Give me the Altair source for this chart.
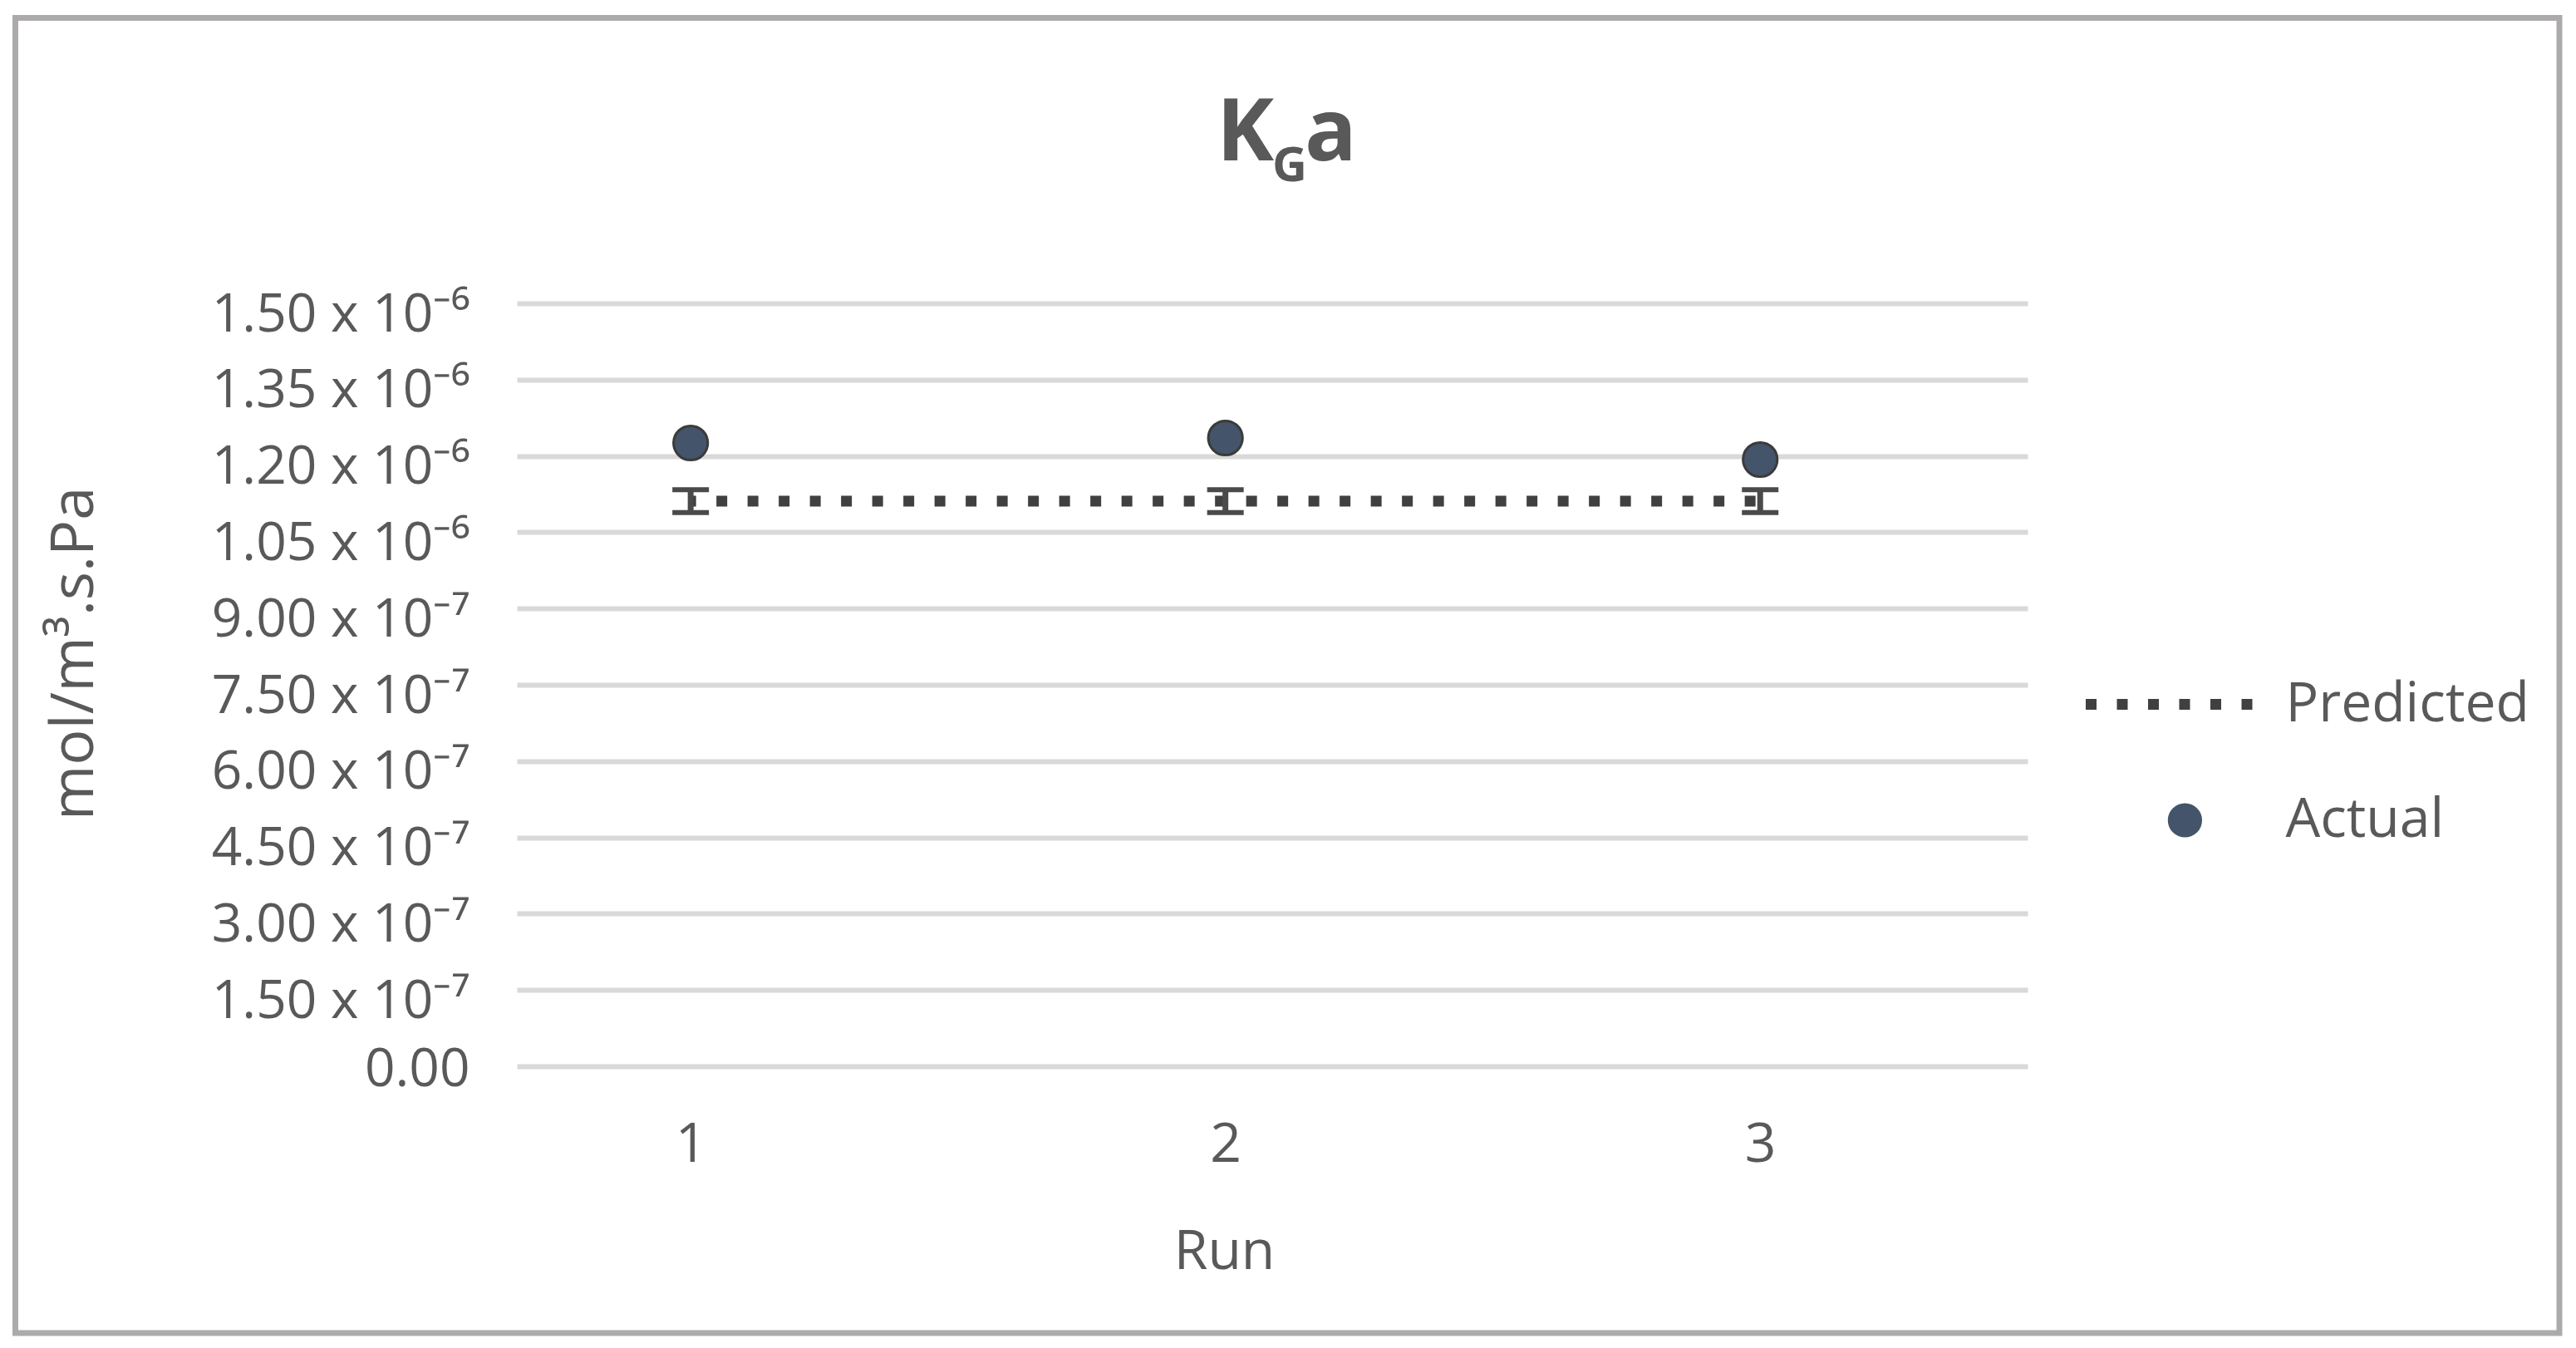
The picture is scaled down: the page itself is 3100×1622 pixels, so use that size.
import json
import altair as alt
import pandas as pd

# ---------------- data ----------------
runs = [1, 2, 3]
actual = [1.2255e-6, 1.2353e-6, 1.1928e-6]
predicted = [1.111e-6, 1.111e-6, 1.111e-6]
predicted_err = [0.0225e-6, 0.0225e-6, 0.0225e-6]

y_tick_values = [0, 1.5e-7, 3.0e-7, 4.5e-7, 6.0e-7, 7.5e-7, 9.0e-7,
                 1.05e-6, 1.2e-6, 1.35e-6, 1.5e-6]
y_tick_labels = ["0.00", "1.50 x 10\u207b\u2077", "3.00 x 10\u207b\u2077",
                 "4.50 x 10\u207b\u2077", "6.00 x 10\u207b\u2077",
                 "7.50 x 10\u207b\u2077", "9.00 x 10\u207b\u2077",
                 "1.05 x 10\u207b\u2076", "1.20 x 10\u207b\u2076",
                 "1.35 x 10\u207b\u2076", "1.50 x 10\u207b\u2076"]
x_tick_values = [1, 2, 3]
title_parts = ["K", "G", "a"]
y_title = "mol/m\u00b3.s.Pa"
x_title = "Run"
series_names = ["Predicted", "Actual"]

# ---------------- tables ----------------
df_act = pd.DataFrame({"run": runs, "value": actual, "series": series_names[1]})
df_pred = pd.DataFrame({"run": runs, "value": predicted, "err": predicted_err,
                        "series": series_names[0]})
df_pred["lo"] = df_pred["value"] - df_pred["err"]
df_pred["hi"] = df_pred["value"] + df_pred["err"]

FONT = "Open Sans"
GREY = "#595959"
W, H = 1818, 918
PAD_L, PAD_T = 614, 357

x_scale = alt.Scale(domain=[0.675, 3.5], nice=False, zero=False)
y_scale = alt.Scale(domain=[0, 1.5e-6], nice=False)

label_expr = json.dumps(y_tick_labels) + "[round(datum.value / 1.5e-7)]"

x_enc = alt.X("run:Q", scale=x_scale,
              axis=alt.Axis(values=x_tick_values, format="d", grid=False,
                            domain=False, ticks=False, labelPadding=62,
                            labelFontSize=66, labelColor=GREY, labelFont=FONT,
                            labelLimit=0,
                            title=x_title, titleFontSize=66, titleColor=GREY,
                            titleFont=FONT, titleFontWeight="normal",
                            titleX=851, titleY=223, titleBaseline="middle",
                            titleAlign="center"))
y_enc = alt.Y("value:Q", scale=y_scale,
              axis=alt.Axis(values=y_tick_values, labelExpr=label_expr,
                            grid=True, gridColor="#D9D9D9", gridWidth=6,
                            domain=False, ticks=False, labelPadding=57,
                            labelFontSize=64, labelColor=GREY, labelFont=FONT,
                            labelOffset={"condition": {"test": "datum.value === 0",
                                                       "value": 4},
                                         "value": 14},
                            labelLimit=0,
                            title=y_title, titleFontSize=72, titleColor=GREY,
                            titleFont=FONT, titleFontWeight="normal",
                            titleAngle=270, titleX=-533, titleY=421,
                            titleBaseline="middle", titleAlign="center"))

# border around whole chart
border = alt.Chart(pd.DataFrame({"b": [0]})).mark_rect(
    fill=None, stroke="#ADAAAA", strokeWidth=7
).encode(
    x=alt.value(18.5 - 622), x2=alt.value(3080 - 622),
    y=alt.value(21.5 - 365), y2=alt.value(1604 - 365)
)

line = alt.Chart(df_pred).mark_line(
    color="#404040", strokeWidth=13, strokeCap="butt", strokeDashOffset=6.5
).encode(
    x=x_enc, y=y_enc,
    strokeDash=alt.StrokeDash(
        "series:N",
        scale=alt.Scale(domain=[series_names[0]], range=[[13, 24.5]]),
        legend=alt.Legend(orient="none", legendX=1881.5, legendY=375.5,
                          title=None, padding=0, symbolType="stroke",
                          symbolSize=40401, symbolStrokeWidth=13,
                          symbolStrokeColor="#404040", labelFontSize=66,
                          labelColor=GREY, labelFont=FONT, labelOffset=33,
                          labelLimit=0))
)

ERR_COL = "#4a4a4a"
err_rule = alt.Chart(df_pred).mark_rule(color=ERR_COL, strokeWidth=7).encode(
    x="run:Q", y="lo:Q", y2="hi:Q"
)
cap_lo = alt.Chart(df_pred).mark_tick(color=ERR_COL, orient="horizontal",
                                      size=44, thickness=6, opacity=1).encode(
    x="run:Q", y="lo:Q"
)
cap_hi = alt.Chart(df_pred).mark_tick(color=ERR_COL, orient="horizontal",
                                      size=44, thickness=6, opacity=1).encode(
    x="run:Q", y="hi:Q"
)

points = alt.Chart(df_act).mark_point(
    filled=True, fill="#44546A", stroke="#3b3b3b", strokeWidth=3, size=1700,
    opacity=1
).encode(
    x="run:Q", y="value:Q",
    shape=alt.Shape(
        "series:N",
        scale=alt.Scale(domain=[series_names[1]], range=["circle"]),
        legend=alt.Legend(orient="none", legendX=1974.4, legendY=589,
                          title=None, padding=0, symbolSize=1700,
                          symbolFillColor="#44546A", symbolStrokeColor="#3b3b3b",
                          symbolStrokeWidth=3, labelFontSize=66,
                          labelColor=GREY, labelFont=FONT, labelOffset=88,
                          labelLimit=0))
)

def title_text(letter, x, y, size):
    return alt.Chart(pd.DataFrame({"t": [letter]})).mark_text(
        font=FONT, fontSize=size, fontWeight="bold", color=GREY,
        align="left", baseline="alphabetic"
    ).encode(text="t:N", x=alt.value(x), y=alt.value(y))

t_k = title_text(title_parts[0], 842, -172, 104)
t_g = title_text(title_parts[1], 909, -147, 58)
t_a = title_text(title_parts[2], 948, -172, 104)

chart = alt.layer(
    border, line, err_rule, cap_lo, cap_hi, points, t_k, t_g, t_a
).resolve_scale(
    strokeDash="independent", shape="independent"
).properties(
    width=W, height=H,
    autosize=alt.AutoSizeParams(type="none"),
    padding={"left": PAD_L, "top": PAD_T, "right": 652, "bottom": 331},
    background="white"
).configure_view(strokeWidth=0)

chart.save("out.html", embed_options={"renderer": "svg", "actions": False})
